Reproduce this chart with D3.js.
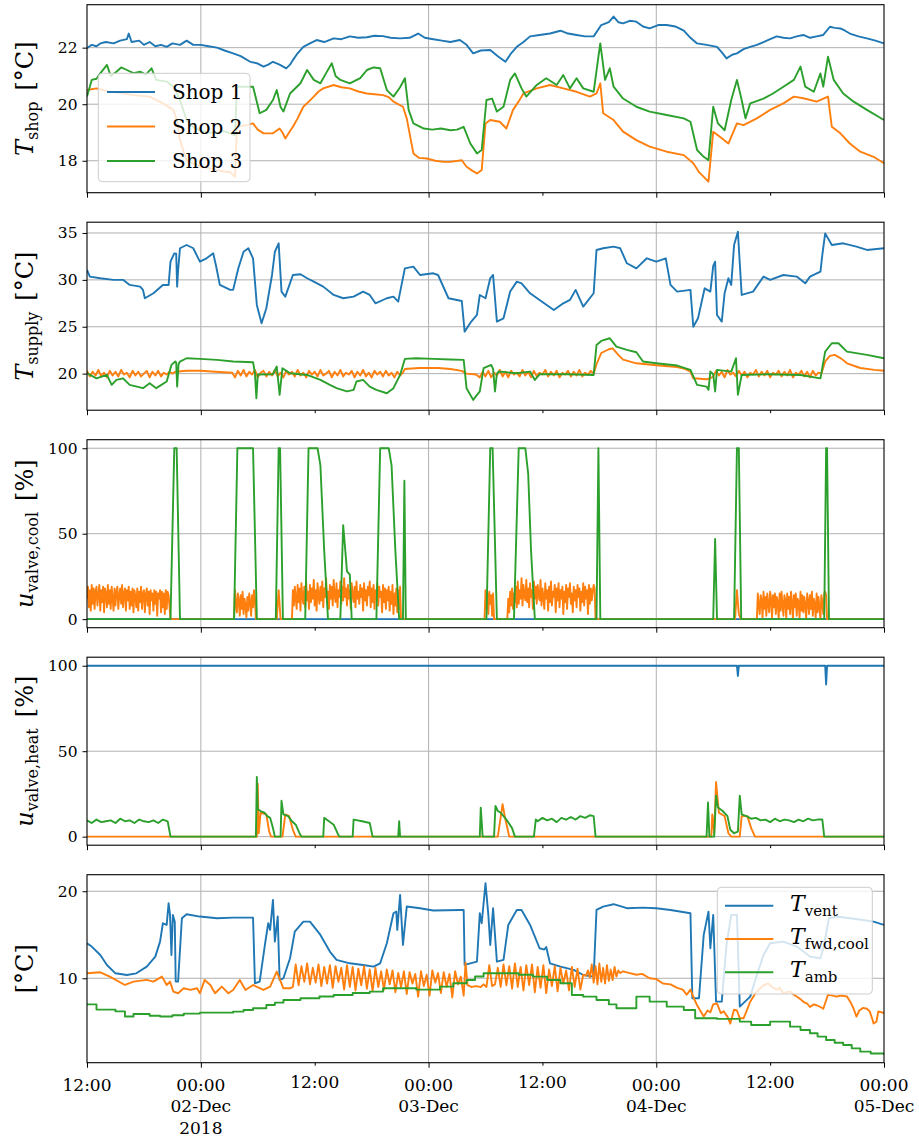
<!DOCTYPE html>
<html><head><meta charset="utf-8">
<script src="https://cdn.jsdelivr.net/npm/d3@7"></script>
<style>body{margin:0;background:#fff} svg{display:block} text{font-family:"DejaVu Serif",serif;fill:#000}</style>
</head><body><svg id="c" width="919" height="1139"></svg>
<script>
// time axis in hours since 2018-12-01 12:00
const xMajor = [0, 12, 36, 60, 84];
const xMinor = [24, 48, 72];
const xMajorLabels = [["12:00"], ["00:00", "02-Dec", "2018"], ["00:00", "03-Dec"], ["00:00", "04-Dec"], ["00:00", "05-Dec"]];
const xMinorLabels = ["12:00", "12:00", "12:00"];
const xGrid = [12, 36, 60];

// ---- panel 1: shop temperatures
const shop1 = [[0,21.98],[0.5,22.1],[1.0,22.05],[1.4,22.15],[2.0,22.2],[2.8,22.15],[3.5,22.25],[4.2,22.3],[4.4,22.5],[4.7,22.2],[5.5,22.25],[6.0,22.1],[6.6,22.2],[7.2,22.05],[7.8,22.1],[8.4,22.03],[9.0,22.15],[9.8,22.1],[10.5,22.25],[11.2,22.1],[12,22.1],[12.8,22.05],[13.7,22.0],[14.5,21.9],[15.4,21.8],[16.2,21.7],[17.2,21.5],[17.9,21.45],[18.6,21.33],[19.1,21.4],[19.6,21.5],[20.3,21.4],[21.0,21.27],[21.4,21.4],[21.7,21.56],[22.2,21.8],[22.8,22.03],[23.5,22.15],[24.2,22.27],[25,22.2],[26,22.33],[26.8,22.3],[27.7,22.4],[28.6,22.35],[29.5,22.37],[30.3,22.42],[31.2,22.41],[32,22.35],[33,22.33],[34.0,22.35],[34.9,22.5],[35.6,22.35],[36.5,22.3],[37.4,22.25],[38.3,22.2],[39.3,22.27],[40,22.1],[40.7,21.8],[41.5,21.9],[42.5,21.92],[43.3,21.7],[44.1,21.5],[44.7,21.8],[45.3,22.03],[46,22.2],[46.7,22.4],[47.7,22.45],[48.8,22.5],[49.9,22.6],[50.7,22.5],[51.6,22.45],[52.5,22.4],[53.4,22.4],[54.2,22.8],[55.0,22.9],[55.5,23.1],[56.0,22.9],[56.5,22.86],[57.2,22.95],[57.9,22.92],[58.6,22.75],[59.3,22.68],[60.2,22.8],[61.1,22.8],[62.0,22.75],[62.9,22.6],[63.6,22.35],[64.3,22.15],[65.3,22.1],[66.4,22.03],[67.0,21.8],[67.4,21.62],[68.0,21.75],[68.5,21.8],[69.2,21.95],[69.9,22.03],[70.6,22.1],[71.3,22.2],[72.0,22.3],[72.7,22.4],[73.4,22.35],[74.1,22.33],[74.8,22.4],[75.5,22.45],[76.2,22.35],[76.9,22.4],[77.6,22.45],[78.3,22.74],[78.8,22.7],[79.4,22.68],[79.9,22.6],[80.4,22.5],[81.3,22.4],[82.2,22.33],[83.1,22.25],[84,22.15]];
const shop2 = [[0,20.5],[1.0,20.56],[2.4,20.44],[3.5,20.4],[4.9,20.32],[6.6,20.27],[8.0,20.03],[9.1,19.8],[9.5,19.4],[9.8,18.73],[10.2,18.3],[10.5,18.0],[11.2,17.9],[11.9,17.79],[12.8,17.75],[13.7,17.67],[14.4,17.62],[15.1,17.6],[15.6,17.43],[15.8,19.2],[16.8,19.26],[17.5,19.32],[18.0,19.1],[18.6,18.97],[19.6,18.97],[20.3,19.14],[20.6,19.0],[20.9,18.79],[21.3,19.0],[21.7,19.2],[22.2,19.5],[22.8,19.91],[23.4,20.1],[23.9,20.27],[24.4,20.45],[24.9,20.56],[26.0,20.68],[26.8,20.6],[27.7,20.56],[28.6,20.45],[29.5,20.38],[30.3,20.35],[31.2,20.32],[31.8,20.25],[32.3,20.09],[33.3,19.91],[33.7,19.5],[34.0,18.97],[34.4,18.26],[35.0,18.1],[35.8,18.08],[36.7,18.0],[37.6,17.96],[38.3,17.96],[39.5,18.02],[40.0,17.79],[40.6,17.65],[41.1,17.55],[41.6,17.67],[42.0,19.32],[42.5,19.44],[43.5,19.38],[44.2,19.14],[44.9,19.8],[45.5,20.1],[46.0,20.38],[47.4,20.56],[48.8,20.68],[50.2,20.56],[51.6,20.44],[53.0,20.27],[53.7,20.38],[54.1,20.74],[54.4,19.68],[55.5,19.44],[56.5,19.03],[57.9,18.73],[59.3,18.5],[61.1,18.32],[62.9,18.2],[63.9,17.91],[64.5,17.6],[65.0,17.43],[65.5,17.26],[66.0,19.03],[66.7,18.85],[67.6,18.61],[68.5,19.32],[69.2,19.26],[70.6,19.5],[72.0,19.8],[73.4,20.03],[74.5,20.27],[75.5,20.21],[76.9,20.09],[78.1,20.27],[78.5,19.2],[79.4,18.97],[80.4,18.61],[81.5,18.32],[82.9,18.14],[84,17.91]];
const shop3 = [[0,20.27],[0.5,20.86],[1.0,20.9],[1.4,21.09],[2.1,21.39],[2.5,21.0],[3.1,21.15],[3.6,21.3],[4.2,21.21],[4.9,21.1],[5.6,21.15],[6.2,21.05],[6.8,21.27],[7.3,20.86],[8.4,20.8],[9.1,20.62],[9.8,20.15],[10.5,19.44],[11.2,19.2],[11.9,19.08],[12.8,19.0],[13.7,18.97],[14.4,19.05],[15.1,18.97],[15.6,18.9],[15.8,20.62],[16.8,20.62],[17.5,20.62],[18.2,19.68],[18.9,19.8],[19.6,20.15],[20.0,20.5],[20.4,19.9],[20.7,19.74],[21.4,20.38],[22.5,20.74],[23.2,21.21],[23.9,20.86],[24.6,20.74],[25.2,21.1],[25.8,21.45],[26.2,21.0],[26.7,20.86],[27.7,20.74],[28.8,20.92],[29.5,21.21],[30.2,21.3],[30.9,21.27],[31.6,20.5],[32.3,20.27],[33.0,20.6],[33.5,20.92],[33.9,19.8],[34.4,19.32],[35.5,19.14],[36.4,19.1],[37.3,19.14],[38.3,19.08],[39.0,19.1],[39.7,19.2],[40.4,18.61],[41.1,18.26],[41.6,18.38],[42.1,20.15],[42.7,20.2],[43.2,19.74],[43.9,19.91],[44.6,20.86],[45.1,21.09],[45.8,20.56],[46.3,20.27],[47.4,20.68],[48.4,20.92],[49.5,20.68],[50.2,21.03],[50.9,20.56],[51.6,20.92],[52.3,20.56],[53.4,20.44],[53.9,21.68],[54.1,22.15],[54.6,20.86],[55.1,21.27],[55.5,20.62],[56.5,20.2],[57.9,19.91],[59.3,19.74],[61.1,19.62],[62.9,19.5],[63.6,19.38],[64.3,18.38],[65.0,18.14],[65.5,18.02],[66.0,19.91],[66.5,19.32],[67.2,19.08],[67.9,20.15],[68.5,20.86],[69.0,20.15],[69.4,19.5],[69.9,20.03],[71.3,20.2],[72.3,20.38],[73.4,20.62],[74.5,20.86],[75.2,21.33],[75.7,20.62],[76.6,20.44],[77.3,21.09],[77.6,20.62],[78.1,21.68],[78.7,20.86],[79.7,20.38],[80.8,20.09],[82.2,19.8],[84,19.44]];

// ---- panel 2: supply temperatures
const supply1 = [[0,31.06],[0.3,30.35],[1.4,30.17],[2.8,30.0],[3.8,30.0],[4.5,29.46],[5.6,29.28],[5.9,28.93],[6.1,28.04],[7.0,28.57],[8.0,29.46],[8.6,29.46],[8.8,31.94],[9.2,32.83],[9.4,32.8],[9.5,29.28],[9.6,31],[9.8,33.37],[10.5,33.72],[11.2,33.37],[11.9,31.94],[12.6,32.3],[13.3,32.83],[13.6,31.5],[14.0,29.46],[15.1,28.93],[15.4,28.93],[15.95,31.23],[16.5,33.0],[17.0,33.37],[17.5,32.3],[17.9,27.33],[18.4,25.37],[18.9,26.97],[19.5,30.52],[19.8,33.0],[20.2,33.9],[20.5,28.75],[20.9,28.21],[21.7,30.52],[22.5,30.6],[23.2,30.17],[23.9,29.81],[24.9,29.28],[26.0,28.39],[27.0,28.04],[28.1,28.21],[29.1,28.75],[29.8,28.39],[30.4,27.5],[31.6,28.04],[32.3,28.21],[32.8,27.68],[33.5,31.23],[34.4,31.41],[35.1,30.52],[36.5,30.7],[37.0,30.52],[38.1,28.04],[39.5,27.75],[39.8,24.48],[40.5,25.55],[41.1,26.26],[41.4,28.39],[42.0,28.04],[42.5,30.17],[42.8,30.52],[43.2,25.55],[43.9,25.9],[44.6,28.75],[45.3,29.81],[45.8,29.63],[46.7,28.57],[47.7,27.86],[49.2,26.79],[50.2,27.5],[50.9,27.86],[51.5,28.93],[52.3,27.15],[53.4,28.57],[53.7,33.19],[54.4,33.37],[55.5,33.54],[56.2,33.37],[56.9,31.77],[57.9,31.23],[59.0,32.3],[60.0,31.94],[61.0,32.3],[61.5,29.46],[62.2,28.75],[63.6,28.93],[63.9,25.0],[64.4,25.9],[65.1,29.1],[65.7,28.75],[66.0,31.5],[66.2,31.94],[66.4,26.26],[66.9,25.55],[67.2,28.57],[67.6,30.17],[67.9,29.46],[68.2,33.72],[68.6,35.14],[69.0,28.39],[70.2,28.75],[71.3,30.35],[72.0,30.0],[73.4,30.52],[74.8,30.35],[75.7,29.63],[76.2,30.35],[77.3,30.88],[77.5,32.66],[77.8,34.96],[78.5,33.72],[79.7,33.9],[81.1,33.54],[82.2,33.19],[84,33.37]];
const supply2NoiseA = [20.3,19.7,20.2,19.8,20.4,19.7,20.1,19.6,20.3,19.8,20.2,19.7,20.4,19.9,20.1,19.6,20.3,19.8,20.2,19.7,20.0,20.3,19.6,20.2,19.8,20.3,19.7,20.1,19.9,20.2,20.0];
const supply2Mid1 = [[9.3,20.2],[10.5,20.3],[12,20.3],[13.5,20.2],[15.3,20.1]];
const supply2NoiseB = [19.6,20.3,19.8,20.4,19.7,20.2,19.9,20.4,19.6,20.1,20.3,19.7,20.2,19.8,20.4,19.7,20.1,19.6,20.3,19.9,20.2,19.7,20.4,19.8,20.1,19.6,20.3,19.9,20.2,19.7,20.4,19.8,20.0,20.3,19.6,20.2,19.8,20.4,19.7,20.1,19.9,20.3,19.6,20.2,19.8,20.4,19.7,20.1,19.6,20.3,19.9,20.2,19.7,20.3,19.8,20.1,19.6,20.2,19.8,20.1];
const supply2Mid2 = [[33.5,20.5],[35,20.6],[37,20.6],[38.3,20.5],[39.5,20.3],[40.0,20.0],[41.0,19.9]];
const supply2NoiseC = [19.6,20.2,19.7,20.3,19.6,20.1,19.8,20.4,19.7,20.2,19.6,20.3,19.9,20.1,19.7,20.4,19.8,20.2,19.6,20.3,19.7,20.1,19.9,20.4,19.7,20.2,19.8,20.3,19.6,20.1,19.9,20.3,19.7,20.2,19.8,20.4,19.7,20.1,19.9,20.3,20.0];
const supply2Mid3 = [[53.7,21.0],[54.2,22.2],[55.0,22.6],[55.4,22.7],[56.0,22.0],[56.5,21.5],[57.9,21.1],[60,20.9],[62.2,20.7],[63.0,20.5],[63.6,20.2],[63.9,19.5],[65.3,19.4],[65.7,19.5]];
const supply2NoiseD = [19.7,20.3,19.8,20.2,19.6,20.4,19.9,20.1,19.7,20.3,19.8,20.2,19.6,20.1,19.9,20.4,19.7,20.2,19.8,20.3,19.6,20.1,19.9,20.3,19.7,20.2,19.8,20.4,19.6,20.1,19.9,20.3,19.7,20.2,19.6,20.3,19.8,20.1,20.0];
const supply2End = [[77.8,21.3],[78.3,21.9],[78.8,22.0],[79.5,21.6],[80.1,21.1],[81.5,20.6],[83,20.4],[84,20.3]];
const supply3 = [[0,20.04],[1.0,19.5],[2.1,19.86],[2.6,18.8],[3.1,19.33],[3.8,19.5],[4.5,18.8],[5.9,18.45],[6.6,18.98],[7.3,18.45],[8.4,19.16],[8.9,20.93],[9.3,21.29],[9.4,21.2],[9.5,18.62],[9.65,21.0],[9.8,21.29],[10.5,21.64],[11.9,21.57],[13.7,21.47],[15.4,21.29],[17.5,21.22],[17.7,20.04],[17.85,17.38],[18.0,19.9],[19.6,19.93],[20.0,20.76],[20.3,17.74],[20.6,20.58],[21.4,20.04],[23.2,19.86],[24.6,19.33],[25.6,18.8],[26.3,18.45],[27.4,18.1],[28.1,18.27],[28.4,19.16],[29.1,19.33],[29.8,18.62],[30.5,18.27],[31.6,17.91],[32.3,18.45],[33.0,19.86],[33.5,21.57],[34.7,21.64],[36.5,21.57],[38.3,21.5],[39.7,21.47],[40.0,18.45],[40.7,17.2],[41.4,18.1],[41.8,20.58],[42.6,20.93],[42.8,20.5],[43.0,18.1],[43.2,20.0],[43.4,20.22],[45.3,20.04],[46.7,20.22],[47.2,19.33],[47.7,19.93],[50.6,19.93],[53.4,19.86],[53.7,23.06],[54.2,23.49],[55.1,23.77],[55.8,22.89],[56.9,22.53],[57.9,22.28],[58.6,21.29],[60.0,21.11],[62.2,20.86],[63.6,20.4],[64.3,18.8],[65.3,18.62],[65.5,18.27],[65.7,20.22],[66.0,19.93],[66.2,18.1],[66.4,20.4],[67.9,20.22],[68.4,21.64],[68.6,17.74],[69.0,19.86],[71.6,19.93],[75.2,19.86],[77.3,19.5],[77.8,22.35],[78.5,23.24],[79.2,23.24],[80.1,22.35],[82.2,22.0],[84,21.64]];

// ---- panel 3: cooling valves
const cool1 = [[0,0],[84,0]];
const cool2NoiseA = [12,19,7,17,5,20,9,18,6,16, 19,8,14,20,5,17,10,19,4,18, 15,7,20,9,17,6,19,12,5,18, 8,16,19,6,14,18,9,20,7,15, 18,5,17,11,19,6,16,8,18,4, 17,13,7,18,5,16,10,19,6,15, 17,4,14,18,8,16,3,17,11,15, 5,17,9,16,2,15,12,17,4,16, 7,15,3,17,6,16,14];
const cool2NoiseB = [17,9,4,15,11,2,14,6,16,3, 12,8,1,13,5,15,10,2,14,7, 17,12,0];
const cool2NoiseC = [17,8,19,12,6,20,10,18,5,21, 13,9,19,7,22,11,16,6,20,10, 18,12,23,8,17,5,21,14,9,19, 11,22,7,18,13,24,10,16,6,20, 12,19,8,23,14,10,21,7,17,13, 22,9,19,11,24,13,18,8,20,12, 17,6,21,14,10,19,7,22,12,16, 9,20,13,18,5,21,11,17,8,19, 14,22,7,18,10,20,6,17,12,21, 8,19,13,16,4,20,10,18,6,17, 11,19,5,16,9,20,3,15,8,18, 4,17,6,19,0];
const cool2NoiseD = [17,6,15,3,16,9,14,2,15,0];
const cool2NoiseE = [12,4,16,8,18,6,15,10,19,7, 22,9,17,12,24,8,20,14,11,23, 10,18,7,21,13,17,6,22,12,19, 9,20,14,11,23,8,18,13,6,21, 12,17,5,19,10,22,8,16,13,20, 4,18,11,21,7,17,12,19,3,16, 10,20,6,18,13,21,9,15,4,19, 11,17,7,20,13,18,5,16,10,21, 8,19,12,17,3,20,9,18,11,16, 20,18,0];
const cool2NoiseF = [0,15,8,3,14,11,1,16,6,13, 2,15,9,4,16,12,1,14,7,15, 3,13,10,0,15,5,16,8,2,14, 11,1,15,6,13,3,16,9,0,14, 7,15,2,12,10,1,16,5,14,4, 13,8,0,15,11,3,14,6,16,2, 12,9,1,15,4,13,7,0,14,10, 3,15,16,14,0];
const cool3 = [[0,0],[8.8,0],[9.2,100],[9.45,100],[9.8,0],[15.5,0],[15.85,100],[17.5,100],[17.9,0],[19.9,0],[20.2,100],[20.35,100],[20.65,0],[23.0,0],[23.35,100],[24.3,100],[24.6,90],[25.0,40],[25.4,0],[26.7,0],[27.0,55],[27.3,35],[27.4,28],[27.7,26],[27.9,0],[30.5,0],[30.9,100],[31.8,100],[32.1,90],[32.5,40],[32.9,0],[33.3,0],[33.45,81],[33.6,0],[42.1,0],[42.5,100],[42.75,100],[43.2,0],[45.0,0],[45.5,100],[46.2,100],[46.5,85],[46.8,40],[47.2,0],[53.7,0],[53.9,100],[54.1,0],[66.0,0],[66.2,47],[66.4,0],[68.2,0],[68.5,100],[68.7,100],[68.95,0],[77.7,0],[77.9,100],[78.0,100],[78.2,0],[84,0]];

// ---- panel 4: heating valves
const heat1 = [[0,100],[68.5,100],[68.6,94],[68.7,100],[77.8,100],[77.9,89],[78.0,100],[84,100]];
const heat2 = [[0,0],[17.9,0],[18.0,31],[18.1,2],[18.3,14],[18.9,13],[19.2,3],[19.4,0],[20.6,0],[20.9,13],[21.3,12],[21.7,4],[22.0,0],[43.3,0],[43.8,19],[44.1,10],[44.5,0],[65.8,0],[65.9,13],[66.1,2],[66.3,32],[66.6,14],[67.2,12],[67.6,2],[67.9,0],[68.8,0],[69.0,12],[69.6,12],[70.0,5],[70.4,0],[84,0]];
const heat3NoiseA = [9.5,8,10,8.5,9,9.5,8,10.5,9,9.5,8,10,9,8.5,9.5,8,10,9];
const heat3Mid = [[8.8,0],[17.8,0],[17.9,35],[18.0,16],[18.3,15],[18.7,14],[19.0,12],[19.3,11],[19.6,5],[19.8,0],[20.4,0],[20.5,21],[20.7,13],[21.2,12],[21.6,9],[22.0,7],[22.4,2],[22.6,0],[24.9,0],[25.0,11],[25.5,9],[26.0,7],[26.4,2],[26.6,0],[28.0,0],[28.1,10],[29.0,9],[29.8,8],[30.1,0],[32.8,0],[32.9,9],[33.0,0],[41.4,0],[41.5,17],[41.7,0],[42.9,0],[43.05,18],[43.3,15],[43.6,14],[44.2,10],[44.8,5],[45.1,0],[47.1,0],[47.3,10]];
const heat3NoiseB = [9,11,9.5,10.5,8.5,11,10,11.5,10,12,11,12.5];
const heat3Mid2 = [[53.4,12],[53.6,0],[65.3,0],[65.45,20],[65.6,0],[66.1,0],[66.3,24],[66.5,17],[67.0,15],[67.5,12],[67.8,4],[68.2,2],[68.6,3],[68.8,24],[69.0,13]];
const heat3NoiseC = [12,10.5,11,9.5,10,8.5,10.5,9,10,9.5,8.5,10,9,10.5,9.5,10];
const heat3End = [[77.5,10],[77.7,0],[84,0]];

// ---- panel 5: temperatures
const tVent = [[0,14.02],[0.5,13.64],[1.4,12.68],[2.1,11.53],[3.0,10.57],[4.2,10.38],[5.2,10.57],[6.3,11.34],[7.2,12.49],[7.7,14.21],[8.0,16.32],[8.4,16.13],[8.6,18.62],[8.75,17.28],[8.9,12.68],[9.05,17.28],[9.25,16.5],[9.35,9.62],[9.6,9.62],[10.0,16.9],[10.5,17.36],[11.9,17.09],[13.7,16.9],[15.4,16.97],[17.5,16.97],[17.7,9.43],[18.2,9.62],[18.8,14.21],[19.1,16.32],[19.3,15.56],[19.6,19.0],[19.8,14.21],[20.1,17.09],[20.3,9.81],[20.7,10.0],[21.4,12.3],[21.9,15.36],[22.8,16.51],[23.5,16.51],[24.6,14.98],[25.6,13.07],[26.3,12.11],[27.7,11.72],[29.1,11.53],[30.2,11.34],[30.9,11.72],[31.6,14.02],[32.3,17.47],[32.6,17.66],[32.7,15.56],[33.0,19.58],[33.3,13.83],[33.7,18.24],[35.1,18.05],[36.5,17.78],[39.3,17.85],[39.7,17.85],[39.8,11.53],[41.1,11.92],[41.4,17.47],[41.6,16.32],[42.0,20.92],[42.3,17.28],[42.5,13.83],[42.8,18.05],[43.2,11.92],[43.9,12.11],[44.4,16.13],[45.3,17.85],[45.8,17.85],[46.7,16.13],[47.7,13.45],[48.2,13.3],[48.4,13.6],[48.8,11.72],[49.9,11.34],[51.3,10.96],[52.3,10.38],[53.4,10.19],[53.7,17.85],[54.4,18.24],[55.5,18.51],[56.9,18.05],[58.6,18.12],[60.0,18.05],[61.5,17.85],[63.6,17.47],[63.8,7.7],[64.5,7.7],[65.0,14.98],[65.5,17.66],[65.7,13.45],[66.0,17.28],[66.3,7.32],[66.9,7.32],[67.4,13.83],[67.9,17.28],[68.5,17.28],[68.8,6.74],[69.9,7.89],[70.6,10.38],[71.3,12.68],[72.0,14.02],[73.4,14.21],[74.8,13.64],[76.2,12.49],[77.3,12.3],[77.6,13.45],[78.2,16.9],[79.0,17.09],[80.4,16.9],[81.8,16.7],[82.9,16.51],[84,16.13]];
const tFwdStart = [[0,10.57],[1.4,10.69],[2.4,10.19],[4.0,9.23],[4.9,9.62],[6.3,9.81],[7.0,9.62],[7.9,10.19],[8.4,9.23],[8.75,9.62],[9.1,8.47],[9.6,8.28],[10.2,8.85],[10.9,8.66],[11.6,8.85],[11.9,8.28],[12.4,9.81],[13.0,9.23],[13.5,8.28],[14.2,9.04],[14.9,8.28],[15.4,8.66],[16.1,9.81],[16.7,8.66],[17.5,9.23],[18.6,8.66],[19.3,9.04],[20.0,10.77],[20.7,8.85],[21.4,8.85]];
const tFwdNoiseA = [9.0,11.6,9.2,11.4,9.6,11.7,9.3,11.2,9.5,11.6,9.1,11.3,9.4,11.5,8.9,11.4,9.6,11.2,8.7,11.5,9.0,11.3,8.6,11.1,9.2,11.4,8.8,11.0,8.5,11.2,9.0,10.8,8.7,11.0,9.3,10.9,8.4,10.6,9.0,10.8,8.2,10.7,9.4,10.5,7.9,10.8,9.1,10.4,8.0,10.9,9.5,10.6,8.3,10.7,9.0,10.5,7.8,10.8,9.3,10.2];
const tFwdMid = [[39.7,8.0],[39.9,11.8],[40.1,9.2],[40.5,9.0],[41,9.1],[41.5,9.0],[41.8,9.3]];
const tFwdNoiseB = [9.0,11.5,9.1,9.3,11.2,9.0,11.6,9.2,11.4,8.8,11.7,9.0,11.3,8.6,11.5,9.2,11.6,8.4,11.3,8.9,11.5,8.3,11.0,9.1,11.4,8.5,11.2,9.4,10.9,8.6,11.3,9.0,11.1,8.7,10.4];
const tFwdNoiseC = [10.3,10.9,10.1,11.6,9.5,11.4,9.3,11.7,9.6,11.2,9.4,11.5,9.7,11.0,9.8,11.3,10.2,10.9,10.6];
const tFwdEnd = [[56.5,10.8],[57.2,10.6],[57.9,10.4],[58.5,10.5],[59.3,10.0],[60,9.9],[60.7,9.4],[61.5,9.3],[62.2,8.9],[62.8,8.7],[63.2,8.1],[63.6,8.7],[64.0,7.6],[64.3,6.9],[65.0,5.6],[65.4,6.3],[65.7,6.1],[66.0,7.0],[66.4,7.1],[66.8,6.0],[67.1,6.2],[67.5,5.6],[67.8,4.8],[68.2,6.4],[68.5,6.3],[68.8,5.4],[69.2,5.4],[69.5,6.2],[69.9,7.3],[70.4,8.2],[70.9,8.8],[71.3,9.2],[71.8,9.4],[72.2,9.0],[72.7,8.7],[73.0,8.9],[73.4,8.3],[74.1,8.5],[74.5,8.1],[74.8,7.9],[75.2,7.6],[75.5,7.3],[75.9,7.1],[76.2,6.7],[76.6,7.0],[76.9,6.9],[77.3,6.7],[77.6,6.5],[78.1,8.1],[78.6,8.0],[79.0,7.9],[79.5,8.0],[80.1,7.9],[80.5,7.2],[80.8,6.5],[81.1,5.6],[81.4,6.3],[81.8,6.6],[82.2,6.5],[82.5,6.2],[82.8,5.2],[82.9,4.8],[83.2,5.0],[83.4,6.2],[84,6.0]];
const tAmb = [[0,7.0],[1.0,6.4],[3.0,6.2],[4.0,5.6],[4.9,5.9],[6.6,5.7],[7.7,5.6],[9.0,5.75],[10.2,5.94],[11.9,6.05],[15.4,6.17],[16.5,6.35],[17.5,6.55],[18.9,6.93],[19.8,7.2],[20.7,7.51],[22.5,7.7],[24.5,7.9],[26.0,8.08],[28.0,8.3],[29.8,8.47],[31.2,8.85],[34.7,8.7],[37.2,9.04],[38.6,9.43],[40.0,9.8],[40.9,10.2],[41.8,10.57],[45.5,10.4],[47.0,10.19],[48.5,9.8],[49.9,9.43],[51.1,8.08],[52.3,7.89],[53.7,7.51],[55.0,7.0],[55.8,6.55],[57.9,7.89],[59.3,7.32],[61.1,6.74],[62.9,6.36],[64.1,5.4],[66.4,5.33],[68.8,5.02],[70.0,4.64],[72.0,5.02],[74.1,4.44],[75.2,4.05],[76.2,3.68],[77.0,3.3],[77.9,2.91],[78.8,2.6],[79.7,2.34],[80.6,1.95],[81.5,1.57],[82.6,1.35],[84,1.19]];

// timestamps for evenly sampled typed segments
function seg(t0, dt, vals) { return vals.map((v, i) => [t0 + i * dt, v]); }

const supply2 = [].concat(seg(0, 0.3, supply2NoiseA), supply2Mid1, seg(15.6, 0.3, supply2NoiseB), supply2Mid2,
  seg(41.4, 0.3, supply2NoiseC), supply2Mid3, seg(66.0, 0.3, supply2NoiseD), supply2End);
const cool2 = [].concat(seg(0, 0.1, cool2NoiseA), [[8.8,0],[15.5,0]], seg(15.6, 0.1, cool2NoiseB), [[20.0,0],[20.2,17],[20.4,0],[21.6,0]],
  seg(21.7, 0.1, cool2NoiseC), [[41.9,0]], seg(42.0, 0.1, cool2NoiseD), [[44.3,0]], seg(44.4, 0.1, cool2NoiseE),
  [[68.3,0],[68.5,17],[68.7,3],[68.9,0]], seg(70.6, 0.1, cool2NoiseF), [[84,0]]);
const heat3 = [].concat(seg(0, 0.5, heat3NoiseA), heat3Mid, seg(47.5, 0.5, heat3NoiseB), heat3Mid2, seg(69.5, 0.5, heat3NoiseC), heat3End);
const tFwd = [].concat(tFwdStart, seg(21.7, 0.3, tFwdNoiseA), tFwdMid, seg(42.1, 0.3, tFwdNoiseB), seg(52.6, 0.2, tFwdNoiseC), tFwdEnd);

const C1 = "#1f77b4", C2 = "#ff7f0e", C3 = "#2ca02c";

const svg = d3.select("#c");
const L = 87, R = 884, PH = 188;
const x = d3.scaleLinear().domain([0, 84]).range([L, R]);

const panels = [
  { top: 4.7, dom: [16.87, 23.52], ticks: [18, 20, 22], label: [["T", "i"], ["shop", "s"], ["[°C]", "n"]],
    series: [[shop1, C1], [shop2, C2], [shop3, C3]] },
  { top: 222.2, dom: [16.1, 36.15], ticks: [20, 25, 30, 35], label: [["T", "i"], ["supply", "s"], ["[°C]", "n"]],
    series: [[supply1, C1], [supply2, C2], [supply3, C3]] },
  { top: 439.7, dom: [-5, 105], ticks: [0, 50, 100], label: [["u", "i"], ["valve,cool", "s"], ["[%]", "n"]],
    series: [[cool1, C1], [cool2, C2], [cool3, C3]] },
  { top: 657.2, dom: [-5, 105], ticks: [0, 50, 100], label: [["u", "i"], ["valve,heat", "s"], ["[%]", "n"]],
    series: [[heat1, C1], [heat2, C2], [heat3, C3]] },
  { top: 874.7, dom: [0.3, 21.9], ticks: [10, 20], label: [["[°C]", "n"]],
    series: [[tVent, C1], [tFwd, C2], [tAmb, C3, d3.curveStepAfter]] }
];

panels.forEach((p, i) => {
  const y = d3.scaleLinear().domain(p.dom).range([p.top + PH, p.top]);
  const g = svg.append("g");
  g.selectAll(".hg").data(p.ticks).join("line")
    .attr("x1", L).attr("x2", R).attr("y1", d => y(d)).attr("y2", d => y(d))
    .attr("stroke", "#b0b0b0").attr("stroke-width", 1);
  g.selectAll(".vg").data(xGrid).join("line")
    .attr("x1", d => x(d)).attr("x2", d => x(d)).attr("y1", p.top).attr("y2", p.top + PH)
    .attr("stroke", "#b0b0b0").attr("stroke-width", 1);
  const cid = "clip" + i;
  svg.append("clipPath").attr("id", cid).append("rect")
    .attr("x", L).attr("y", p.top).attr("width", R - L).attr("height", PH);
  const lg = g.append("g").attr("clip-path", `url(#${cid})`);
  p.series.forEach(s => {
    const line = d3.line().x(d => x(d[0])).y(d => y(d[1])).curve(s[2] || d3.curveLinear);
    lg.append("path").datum(s[0]).attr("d", line).attr("fill", "none")
      .attr("stroke", s[1]).attr("stroke-width", 1.9).attr("stroke-linejoin", "round");
  });
  const ya = g.append("g").attr("transform", `translate(${L},0)`)
    .call(d3.axisLeft(y).tickValues(p.ticks).tickSize(4.5).tickPadding(5).tickFormat(d3.format("d")));
  ya.select(".domain").remove();
  ya.selectAll("line").attr("stroke", "#000").attr("stroke-width", 1);
  ya.selectAll("text").attr("font-size", 15.5).attr("font-family", "DejaVu Serif").attr("fill", "#000");
  const bottom = p.top + PH;
  const xa = g.append("g").attr("transform", `translate(0,${bottom})`)
    .call(d3.axisBottom(x).tickValues(xMajor).tickSize(5).tickFormat(""));
  xa.select(".domain").remove();
  xa.selectAll("line").attr("stroke", "#000").attr("stroke-width", 1);
  const xm = g.append("g").attr("transform", `translate(0,${bottom})`)
    .call(d3.axisBottom(x).tickValues(xMinor).tickSize(3).tickFormat(""));
  xm.select(".domain").remove();
  xm.selectAll("line").attr("stroke", "#000").attr("stroke-width", 1);
  g.append("rect").attr("x", L).attr("y", p.top).attr("width", R - L).attr("height", PH)
    .attr("fill", "none").attr("stroke", "#000").attr("stroke-width", 1.1);
  const cy = p.top + PH / 2;
  const t = g.append("text").attr("transform", `translate(33,${cy}) rotate(-90)`).attr("text-anchor", "middle");
  let prev = "n";
  p.label.forEach(([s, k]) => {
    const ts = t.append("tspan").text(s);
    if (k === "i") ts.attr("font-style", "italic").attr("font-size", 24);
    if (k === "s") ts.attr("font-size", 16).attr("dy", 5);
    if (k === "n") { ts.attr("font-size", 24); if (prev === "s") ts.attr("dy", -5).attr("dx", 11); }
    prev = k;
  });
  if (i === 4) {
    const lab = svg.append("g");
    xMajor.forEach((h, j) => {
      xMajorLabels[j].forEach((s, r) => {
        lab.append("text").attr("x", x(h)).attr("y", 1090.5 + r * 21.8).attr("text-anchor", "middle")
          .attr("font-size", 17).text(s);
      });
    });
    xMinor.forEach((h, j) => {
      lab.append("text").attr("x", x(h)).attr("y", 1087.5).attr("text-anchor", "middle")
        .attr("font-size", 17).text(xMinorLabels[j]);
    });
  }
});

const legend1 = [["Shop 1", C1], ["Shop 2", C2], ["Shop 3", C3]];
const lg1 = svg.append("g");
lg1.append("rect").attr("x", 98.3).attr("y", 73.3).attr("width", 151.7).attr("height", 108.4).attr("rx", 4)
  .attr("fill", "#fff").attr("fill-opacity", 0.8).attr("stroke", "#cccccc").attr("stroke-width", 1);
legend1.forEach((d, j) => {
  const yy = 92 + j * 34.5;
  lg1.append("line").attr("x1", 107).attr("x2", 155).attr("y1", yy).attr("y2", yy).attr("stroke", d[1]).attr("stroke-width", 1.9);
  lg1.append("text").attr("x", 172).attr("y", yy + 7.3).attr("font-size", 20).text(d[0]);
});

const legend5 = [["vent", C1], ["fwd,cool", C2], ["amb", C3]];
const lg5 = svg.append("g");
lg5.append("rect").attr("x", 717.3).attr("y", 887.3).attr("width", 155).attr("height", 106.7).attr("rx", 4)
  .attr("fill", "#fff").attr("fill-opacity", 0.8).attr("stroke", "#cccccc").attr("stroke-width", 1);
legend5.forEach((d, j) => {
  const yy = 905.7 + j * 33.3;
  lg5.append("line").attr("x1", 725).attr("x2", 773.3).attr("y1", yy).attr("y2", yy).attr("stroke", d[1]).attr("stroke-width", 1.9);
  const t = lg5.append("text").attr("x", 790).attr("y", yy + 4.8);
  t.append("tspan").attr("font-style", "italic").attr("font-size", 22).text("T");
  t.append("tspan").attr("font-size", 15).attr("dy", 5).text(d[0]);
});
</script></body></html>
